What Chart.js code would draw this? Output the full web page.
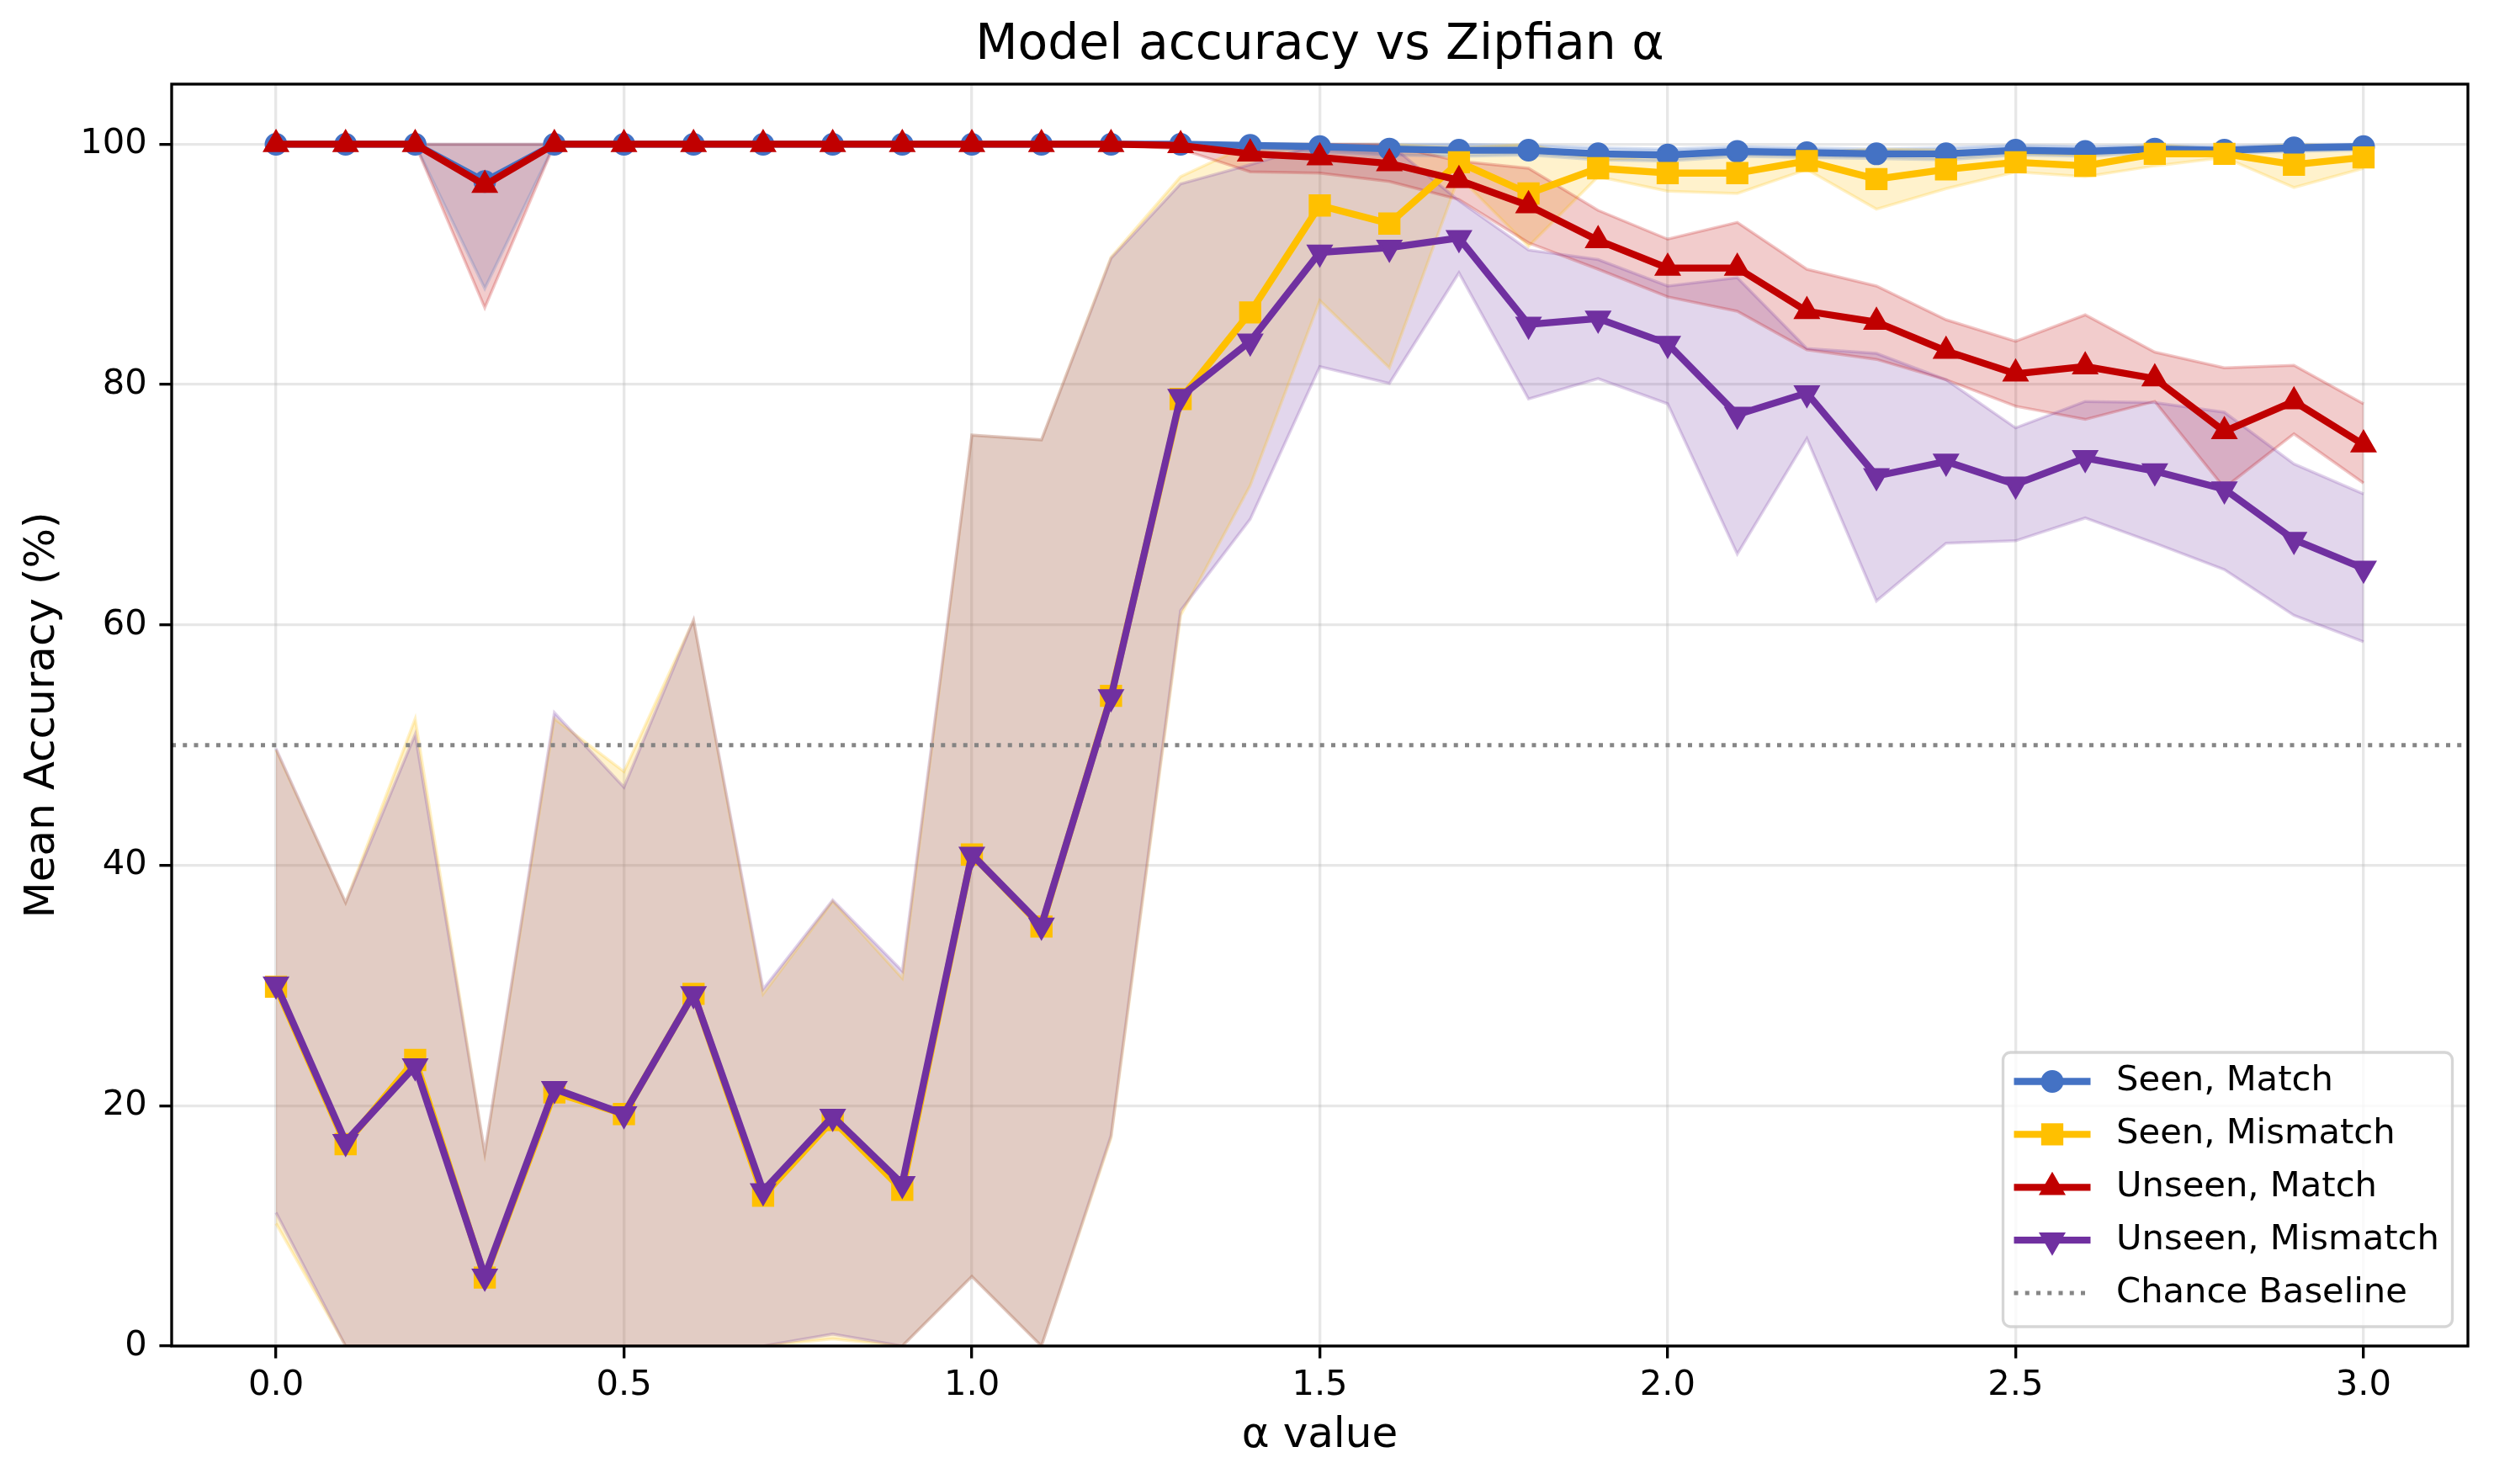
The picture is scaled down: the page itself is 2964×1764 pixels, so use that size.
<!DOCTYPE html>
<html>
<head>
<meta charset="utf-8">
<script src="https://cdn.jsdelivr.net/npm/chart.js@4.4.1/dist/chart.umd.min.js"></script>
<style>
html,body{margin:0;padding:0;background:#ffffff;}
#wrap{width:2964px;height:1764px;position:relative;}
canvas{display:block;}
</style>
</head>
<body>
<div id="wrap"><canvas id="c" width="2964" height="1764" style="width:2964px;height:1764px"></canvas></div>
<script>
// ---------------- DATA ----------------
const alphaValues = [0.0,0.1,0.2,0.3,0.4,0.5,0.6,0.7,0.8,0.9,1.0,1.1,1.2,1.3,1.4,1.5,1.6,1.7,1.8,1.9,2.0,2.1,2.2,2.3,2.4,2.5,2.6,2.7,2.8,2.9,3.0];

const seenMatch      = [100,100,100,96.9,100,100,100,100,100,100,100,100,100,100,99.9,99.8,99.6,99.5,99.5,99.2,99.1,99.4,99.3,99.2,99.2,99.5,99.4,99.6,99.5,99.7,99.8];
const seenMatchLow   = [100,100,100,88.0,100,100,100,100,100,100,100,100,100,99.8,99.6,99.4,99.1,99.0,99.1,98.7,98.6,99.0,98.9,98.8,98.7,99.1,99.0,99.3,99.2,99.4,99.5];
const seenMatchHigh  = [100,100,100,100,100,100,100,100,100,100,100,100,100,100,100,100,100,100,99.9,99.7,99.6,99.8,99.7,99.6,99.7,99.9,99.8,99.9,99.8,100,100];

const seenMismatch     = [29.9,16.8,23.8,5.7,21.1,19.3,29.3,12.5,18.8,13.0,40.9,34.9,54.1,78.8,86.0,94.9,93.4,98.5,95.9,98.0,97.6,97.6,98.6,97.1,97.9,98.5,98.2,99.2,99.2,98.3,98.9];
const seenMismatchLow  = [10.2,0,0,0,0,0,0,0,0.6,0,5.8,0,17.3,60.8,71.6,87.0,81.4,97.3,91.5,97.3,96.1,95.9,97.9,94.6,96.3,97.7,97.3,98.2,98.9,96.4,98.0];
const seenMismatchHigh = [49.6,36.9,52.2,16.0,52.2,47.8,60.4,29.3,37.0,30.6,75.8,75.4,90.6,97.3,100,100,100,99.7,100,98.7,99.1,99.3,99.3,99.6,99.5,99.3,99.1,100,99.5,100,99.8];

const unseenMatch      = [100,100,100,96.6,100,100,100,100,100,100,100,100,100,99.9,99.2,98.9,98.4,97.0,94.9,92.0,89.7,89.7,86.1,85.2,82.8,80.9,81.5,80.5,76.1,78.6,75.0];
const unseenMatchLow   = [100,100,100,86.4,100,100,100,100,100,100,100,100,100,99.6,97.7,97.6,96.9,95.4,91.8,89.6,87.3,86.1,82.9,82.1,80.4,78.2,77.1,78.6,71.4,75.9,71.8];
const unseenMatchHigh  = [100,100,100,100,100,100,100,100,100,100,100,100,100,100,100,100,99.9,98.6,98.0,94.5,92.1,93.5,89.6,88.2,85.4,83.6,85.8,82.7,81.4,81.6,78.4];

const unseenMismatch     = [30.1,17.0,23.3,5.8,21.4,19.3,29.3,12.9,19.1,13.5,40.9,35.0,54.0,79.0,83.6,91.0,91.4,92.2,85.0,85.5,83.4,77.5,79.3,72.4,73.6,71.7,73.9,72.8,71.3,67.1,64.7];
const unseenMismatchLow  = [11.1,0,0,0,0,0,0,0,1.0,0,5.8,0,17.5,61.2,68.8,81.5,80.1,89.3,78.8,80.5,78.4,65.9,75.5,62.0,66.8,67.0,68.9,66.8,64.6,60.8,58.6];
const unseenMismatchHigh = [49.7,36.9,50.9,16.1,52.7,46.5,60.4,29.7,37.1,31.2,75.8,75.4,90.5,96.7,98.3,100,100,95.3,91.2,90.4,88.2,88.9,83.0,82.6,80.4,76.4,78.6,78.5,77.7,73.4,70.9];

const chanceLevel = 50;
const xTickValues = [0.0,0.5,1.0,1.5,2.0,2.5,3.0];
const yTickValues = [0,20,40,60,80,100];
const xMin = -0.15, xMax = 3.15;
const yMin = 0, yMax = 105;

const seriesNames = ['Seen, Match','Seen, Mismatch','Unseen, Match','Unseen, Mismatch'];
const baselineName = 'Chance Baseline';
const titleText = 'Model accuracy vs Zipfian α';
const xLabel = 'α value';
const yLabel = 'Mean Accuracy (%)';

// ---------------- STYLE ----------------
const FONT = 'DejaVu Sans';
const PT = 300/72;
const colors = {
  blue:   [68,114,196],
  yellow: [255,192,0],
  red:    [192,0,0],
  purple: [112,48,160]
};
const rgba = (c,a) => `rgba(${c[0]},${c[1]},${c[2]},${a})`;

const pts = vals => alphaValues.map((a,i) => ({x:a, y:vals[i]}));

const series = [
  {name: seriesNames[0], vals: seenMatch, lo: seenMatchLow, hi: seenMatchHigh, col: colors.blue, style:'circle', radius: 12, rot: 0},
  {name: seriesNames[1], vals: seenMismatch, lo: seenMismatchLow, hi: seenMismatchHigh, col: colors.yellow, style:'rect', radius: 16.5, rot: 0},
  {name: seriesNames[2], vals: unseenMatch, lo: unseenMatchLow, hi: unseenMatchHigh, col: colors.red, style:'triangle', radius: 15.5, rot: 0},
  {name: seriesNames[3], vals: unseenMismatch, lo: unseenMismatchLow, hi: unseenMismatchHigh, col: colors.purple, style:'triangle', radius: 15.5, rot: 180}
];

// datasets: earlier index draws on top
const datasets = [];
for (let k = series.length - 1; k >= 0; k--) {
  const s = series[k];
  datasets.push({
    label: s.name,
    data: pts(s.vals),
    borderColor: rgba(s.col,1),
    backgroundColor: rgba(s.col,1),
    borderWidth: 2*PT,
    borderJoinStyle: 'round',
    pointStyle: s.style,
    pointRadius: s.radius,
    pointRotation: s.rot,
    pointBorderWidth: 3,
    pointBorderColor: rgba(s.col,1),
    pointBackgroundColor: rgba(s.col,1),
    tension: 0,
    fill: false
  });
}
datasets.push({
  label: baselineName,
  data: [{x:xMin, y:chanceLevel},{x:xMax, y:chanceLevel}],
  borderColor: 'rgba(128,128,128,0.95)',
  borderWidth: 1.2*PT,
  borderDash: [1.2*PT, 1.65*1.2*PT],
  borderCapStyle: 'butt',
  pointRadius: 0,
  fill: false
});
for (let k = series.length - 1; k >= 0; k--) {
  const s = series[k];
  datasets.push({
    label: s.name + ' upper',
    data: pts(s.hi),
    borderColor: rgba(s.col,0.22),
    borderWidth: 3.5,
    backgroundColor: rgba(s.col,0.2),
    pointRadius: 0,
    tension: 0,
    fill: '+1'
  });
  datasets.push({
    label: s.name + ' lower',
    data: pts(s.lo),
    borderColor: rgba(s.col,0.22),
    borderWidth: 3.5,
    backgroundColor: rgba(s.col,0.2),
    pointRadius: 0,
    tension: 0,
    fill: false
  });
}

// ---------------- PLUGINS ----------------
const framePlugin = {
  id: 'frame',
  afterDatasetsDraw(chart) {
    const {ctx, chartArea: a} = chart;
    ctx.save();
    ctx.strokeStyle = '#000';
    ctx.lineWidth = 0.8*PT;
    ctx.strokeRect(a.left, a.top, a.right - a.left, a.bottom - a.top);
    ctx.restore();
  }
};

const legendPlugin = {
  id: 'cornerLegend',
  afterDraw(chart) {
    const {ctx, chartArea: a} = chart;
    const w = 534, h = 326;
    const x0 = a.right - 18.5 - w, y0 = a.bottom - 23 - h;
    ctx.save();
    ctx.beginPath();
    if (ctx.roundRect) ctx.roundRect(x0, y0, w, h, 9); else ctx.rect(x0, y0, w, h);
    ctx.fillStyle = 'rgba(255,255,255,0.8)';
    ctx.fill();
    ctx.strokeStyle = 'rgba(204,204,204,0.8)';
    ctx.lineWidth = 0.8*PT;
    ctx.stroke();
    const items = series.map(s => ({name: s.name, col: s.col, style: s.style, radius: s.radius, rot: s.rot}));
    items.push({name: baselineName, baseline: true});
    const rowH = 62.9;
    items.forEach((it, i) => {
      const cy = y0 + 34.5 + i*rowH;
      const lx0 = x0 + 13, lx1 = x0 + 104, mx = x0 + 58.5;
      ctx.save();
      ctx.beginPath();
      ctx.moveTo(lx0, cy); ctx.lineTo(lx1, cy);
      if (it.baseline) {
        ctx.strokeStyle = 'rgba(128,128,128,0.95)';
        ctx.lineWidth = 1.2*PT;
        ctx.setLineDash([1.2*PT, 1.65*1.2*PT]);
        ctx.lineCap = 'butt';
      } else {
        ctx.strokeStyle = rgba(it.col,1);
        ctx.lineWidth = 2*PT;
      }
      ctx.stroke();
      ctx.restore();
      if (!it.baseline) {
        ctx.save();
        ctx.fillStyle = rgba(it.col,1);
        ctx.strokeStyle = rgba(it.col,1);
        ctx.lineWidth = 3;
        Chart.helpers.drawPoint(ctx, {pointStyle: it.style, radius: it.radius, rotation: it.rot, borderWidth: 3}, mx, cy);
        ctx.restore();
      }
      ctx.fillStyle = '#000';
      ctx.font = `${10*PT}px "${FONT}"`;
      ctx.textBaseline = 'middle';
      ctx.textAlign = 'left';
      ctx.fillText(it.name, x0 + 134.6, cy);
    });
    ctx.restore();
  }
};

// ---------------- CHART ----------------
const gridOpts = {
  color: 'rgba(176,176,176,0.3)',
  lineWidth: 0.8*PT,
  drawTicks: true,
  tickLength: 3.5*PT,
  tickColor: '#000',
  tickWidth: 0.8*PT
};

new Chart(document.getElementById('c'), {
  type: 'line',
  data: { datasets },
  plugins: [framePlugin, legendPlugin],
  options: {
    responsive: false,
    devicePixelRatio: 1,
    animation: false,
    events: [],
    layout: { padding: { left: 0, right: 31, top: 0, bottom: 0 } },
    plugins: {
      legend: { display: false },
      tooltip: { enabled: false },
      filler: { propagate: false, drawTime: 'beforeDatasetsDraw' },
      title: {
        display: true,
        text: titleText,
        fullSize: false,
        color: '#000',
        font: { family: FONT, size: 14*PT, weight: 'normal', lineHeight: 1.2 },
        padding: { top: 19.8, bottom: 10.2 }
      }
    },
    scales: {
      x: {
        type: 'linear',
        min: xMin, max: xMax,
        afterBuildTicks: s => { s.ticks = xTickValues.map(v => ({value: v})); },
        afterFit: s => { s.height = 164; },
        ticks: {
          callback: v => Number(v).toFixed(1),
          color: '#000',
          font: { family: FONT, size: 10*PT },
          padding: 8,
          maxRotation: 0,
          autoSkip: false
        },
        grid: gridOpts,
        border: { display: false },
        title: {
          display: true, text: xLabel, color: '#000',
          font: { family: FONT, size: 12*PT, lineHeight: 1.2 },
          padding: { top: 0, bottom: 27.3 }
        }
      },
      y: {
        type: 'linear',
        min: yMin, max: yMax,
        afterBuildTicks: s => { s.ticks = yTickValues.map(v => ({value: v})); },
        afterFit: s => { s.width = 204; },
        ticks: {
          color: '#000',
          font: { family: FONT, size: 10*PT },
          padding: 3.5*PT
        },
        grid: gridOpts,
        border: { display: false },
        title: {
          display: true, text: yLabel, color: '#000',
          font: { family: FONT, size: 12*PT, lineHeight: 1.2 },
          padding: { top: 21, bottom: 0 }
        }
      }
    }
  }
});
</script>
</body>
</html>
